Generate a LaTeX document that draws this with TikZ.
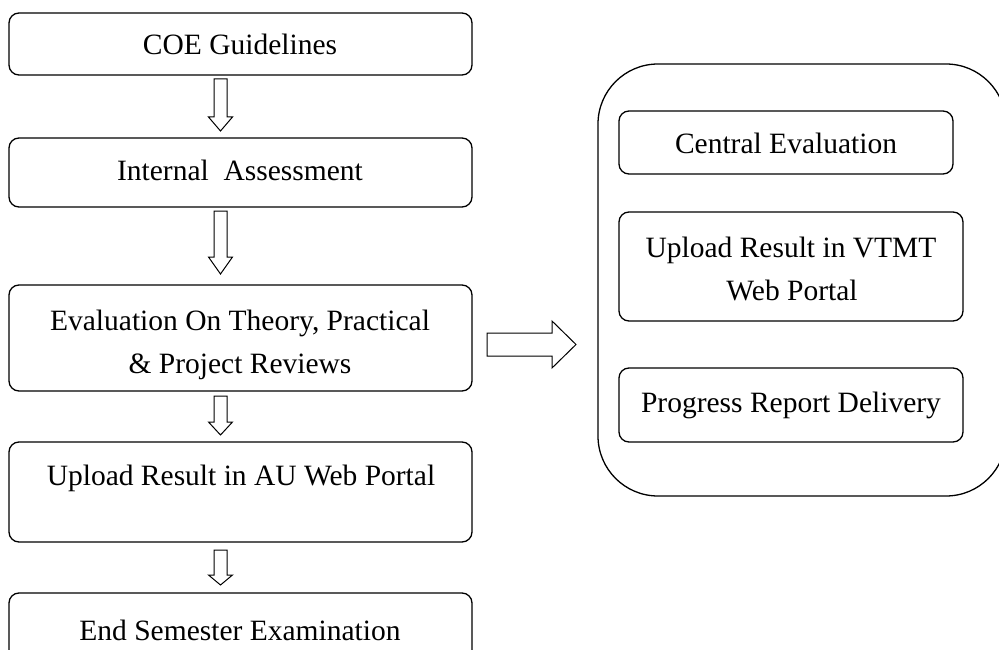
\documentclass[tikz,border=0pt]{standalone}
\usepackage{fontspec}
\setmainfont{Liberation Serif}
\tikzset{
  box/.style={draw, line width=1.3pt, rounded corners=10pt, inner sep=0pt},
  bigbox/.style={draw, line width=1.3pt, rounded corners=60pt, inner sep=0pt},
  lbl/.style={anchor=base, inner sep=0pt, font=\fontsize{29.5}{40}\selectfont},
  blk/.style={draw, line width=1pt, line join=miter, fill=white}
}
\newcommand{\blkdn}[4]{%
  \draw[blk] (#1-6.5,#2) -- (#1+6.5,#2) -- (#1+6.5,#3) -- (#1+12,#3) -- (#1,#4) -- (#1-12,#3) -- (#1-6.5,#3) -- cycle;}
\begin{document}
\begin{tikzpicture}[x=1pt,y=-1pt]
\useasboundingbox (0,0) rectangle (999,650);
\clip (0,0) rectangle (999,650);
% left column boxes
\node[box, minimum width=463pt, minimum height=62pt]  (b1) at (240.5,44) {};
\node[box, minimum width=463pt, minimum height=69pt]  (b2) at (240.5,172.5) {};
\node[box, minimum width=463pt, minimum height=106pt] (b3) at (240.5,338) {};
\node[box, minimum width=463pt, minimum height=100pt] (b4) at (240.5,492) {};
\node[box, minimum width=463pt, minimum height=72pt]  (b5) at (240.5,629) {};
% labels
\node[lbl] (t1) at (240,55) {COE Guidelines};
\node[lbl] (t2) at (240,181) {Internal\ \ Assessment};
\node[lbl] (t3a) at (240,330) {Evaluation On Theory, Practical};
\node[lbl] (t3b) at (240,373) {\&\ Project Reviews};
\node[lbl] (t4) at (241,485) {Upload Result in AU Web Portal};
\node[lbl] (t5) at (240,640) {End Semester Examination};
% right group
\node[bigbox, minimum width=408pt, minimum height=432pt] (big) at (802,280) {};
\node[box, minimum width=334pt, minimum height=63pt]  (r1) at (786,142.5) {};
\node[box, minimum width=344pt, minimum height=109pt] (r2) at (791,266.5) {};
\node[box, minimum width=344pt, minimum height=74pt]  (r3) at (791,405) {};
\node[lbl] (s1) at (786,154) {Central Evaluation};
\node[lbl] (s2a) at (791,257) {Upload Result in VTMT};
\node[lbl] (s2b) at (792,300) {Web Portal};
\node[lbl] (s3) at (791,412) {Progress Report Delivery};
% block arrows
\blkdn{220.5}{79}{117}{131}
\blkdn{220.5}{211}{257}{274}
\blkdn{220.5}{396}{422}{435}
\blkdn{220.5}{550}{575}{585}
\draw[blk] (487,333) -- (552,333) -- (552,321) -- (576,344.5) -- (552,368) -- (552,356) -- (487,356) -- cycle;
\end{tikzpicture}
\end{document}
